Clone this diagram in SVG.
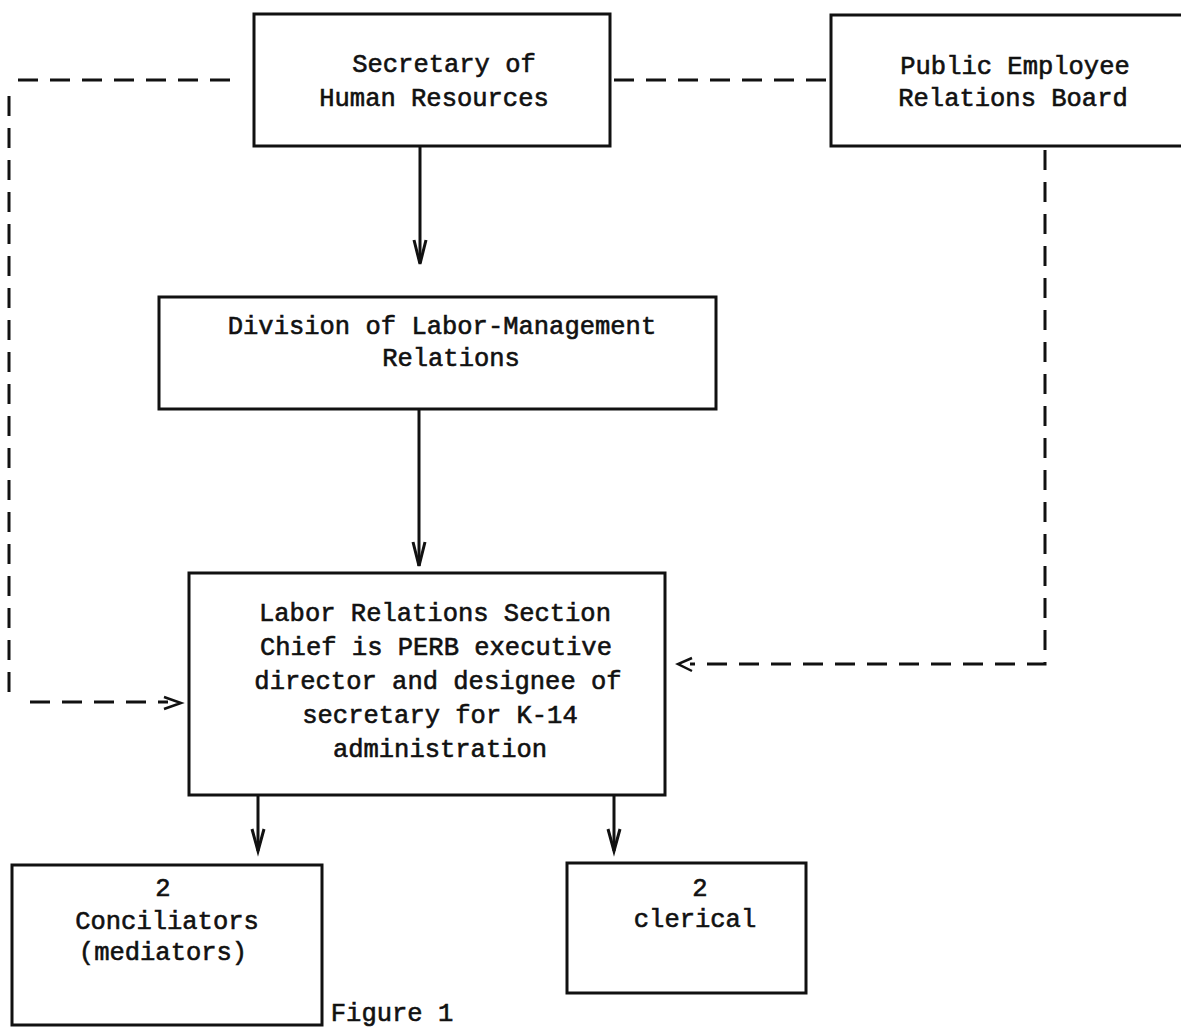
<svg xmlns="http://www.w3.org/2000/svg" width="1181" height="1028" viewBox="0 0 1181 1028">
  <style>
    .box { fill: #fff; stroke: #111; stroke-width: 3; }
    .t { font-family: "Liberation Mono", "DejaVu Sans Mono", monospace; font-size: 25.5px; fill: #111; stroke: #111; stroke-width: 0.6; text-anchor: middle; }
    .solid { fill: none; stroke: #111; stroke-width: 3; }
    .dash { fill: none; stroke: #111; stroke-width: 3; stroke-dasharray: 20 12; }
    .head { fill: none; stroke: #111; stroke-width: 2.5; stroke-linejoin: miter; }
  </style>
  <rect width="1181" height="1028" fill="#fff"/>

  <g id="connectors">
    <!-- solid reporting lines -->
    <line class="solid" x1="420" y1="146" x2="420" y2="263"/>
    <path class="solid" d="M414,240 L420,264 L426,240"/>
    <line class="solid" x1="419" y1="410" x2="419" y2="566"/>
    <path class="solid" d="M413,542 L419,566 L425,542"/>
    <line class="solid" x1="258" y1="796" x2="258" y2="851"/>
    <path class="solid" d="M252,829 L258,851 L264,829"/>
    <line class="solid" x1="614" y1="796" x2="614" y2="851"/>
    <path class="solid" d="M608,829 L614,851 L620,829"/>

    <!-- dashed link: secretary to board -->
    <line class="dash" x1="614" y1="80" x2="828" y2="80"/>
    <!-- dashed link: secretary around the left into the section chief -->
    <path class="dash" d="M230,80 L12,80"/>
    <path class="dash" d="M9,96 L9,692"/>
    <line class="dash" x1="30" y1="702" x2="168" y2="702"/>
    <path class="head" d="M164,697 L181,703 L164,709"/>
    <!-- dashed link: board down and into the section chief -->
    <path class="dash" d="M1045,150 L1045,664 L690,664"/>
    <path class="head" d="M692,658 L678,664 L692,671"/>
  </g>

  <g id="secretary">
    <rect class="box" x="254" y="14" width="356" height="132"/>
    <text class="t" x="444" y="72">Secretary of</text>
    <text class="t" x="434" y="106">Human Resources</text>
  </g>

  <g id="perb">
    <rect class="box" x="831" y="15" width="360" height="131"/>
    <text class="t" x="1015" y="74">Public Employee</text>
    <text class="t" x="1013" y="106">Relations Board</text>
  </g>

  <g id="division">
    <rect class="box" x="159" y="297" width="557" height="112"/>
    <text class="t" x="442" y="334">Division of Labor-Management</text>
    <text class="t" x="451" y="366">Relations</text>
  </g>

  <g id="section-chief">
    <rect class="box" x="189" y="573" width="476" height="222"/>
    <text class="t" x="435" y="621">Labor Relations Section</text>
    <text class="t" x="436" y="655">Chief is PERB executive</text>
    <text class="t" x="438" y="689">director and designee of</text>
    <text class="t" x="440" y="723">secretary for K-14</text>
    <text class="t" x="440" y="757">administration</text>
  </g>

  <g id="conciliators">
    <rect class="box" x="12" y="865" width="310" height="160"/>
    <text class="t" x="163" y="896">2</text>
    <text class="t" x="167" y="929">Conciliators</text>
    <text class="t" x="163" y="960">(mediators)</text>
  </g>

  <g id="clerical">
    <rect class="box" x="567" y="863" width="239" height="130"/>
    <text class="t" x="700" y="896">2</text>
    <text class="t" x="695" y="927">clerical</text>
  </g>

  <text class="t" x="392" y="1021">Figure 1</text>
</svg>
